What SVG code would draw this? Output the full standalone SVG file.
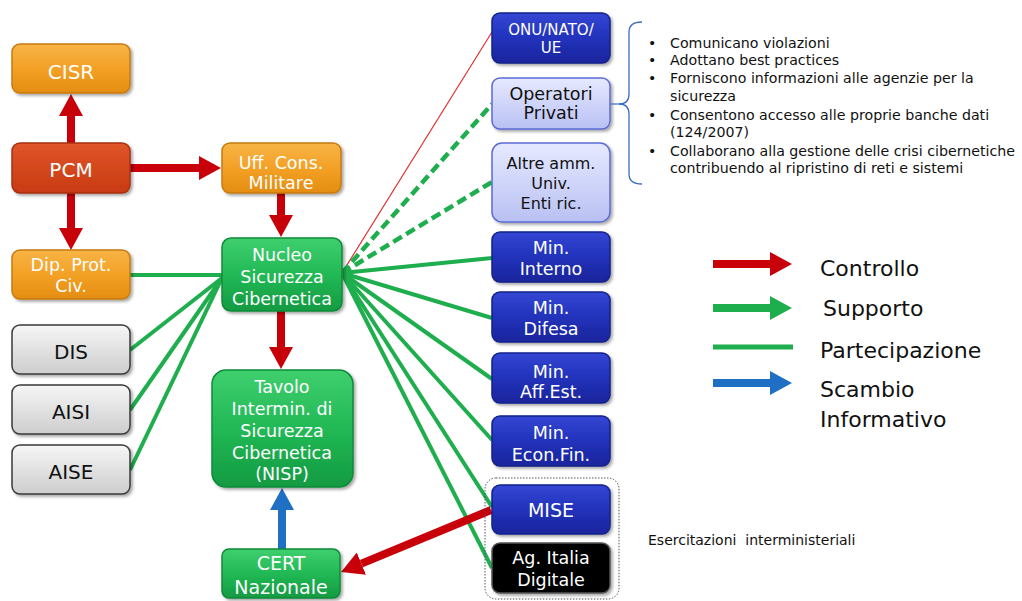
<svg xmlns="http://www.w3.org/2000/svg" width="1022" height="601" viewBox="0 0 1022 601">
<defs>
<linearGradient id="gOr" x1="0" y1="0" x2="0" y2="1"><stop offset="0" stop-color="#f7b445"/><stop offset="0.5" stop-color="#f3a126"/><stop offset="1" stop-color="#e48d10"/></linearGradient>
<linearGradient id="gPcm" x1="0" y1="0" x2="0" y2="1"><stop offset="0" stop-color="#e0552a"/><stop offset="1" stop-color="#c83a12"/></linearGradient>
<linearGradient id="gGr" x1="0" y1="0" x2="0" y2="1"><stop offset="0" stop-color="#3fcf6f"/><stop offset="0.5" stop-color="#22b955"/><stop offset="1" stop-color="#139a42"/></linearGradient>
<linearGradient id="gBl" x1="0" y1="0" x2="0" y2="1"><stop offset="0" stop-color="#3447d4"/><stop offset="0.5" stop-color="#2232bb"/><stop offset="1" stop-color="#1a259c"/></linearGradient>
<linearGradient id="gLb" x1="0" y1="0" x2="0" y2="1"><stop offset="0" stop-color="#e6e9ff"/><stop offset="1" stop-color="#b9c1f3"/></linearGradient>
<linearGradient id="gGy" x1="0" y1="0" x2="0" y2="1"><stop offset="0" stop-color="#f6f6f6"/><stop offset="1" stop-color="#cdcdcd"/></linearGradient>
<filter id="sh" x="-10%" y="-10%" width="125%" height="130%"><feDropShadow dx="2" dy="2" stdDeviation="1.5" flood-color="#000" flood-opacity="0.35"/></filter>
<marker id="hR" markerUnits="userSpaceOnUse" markerWidth="22" markerHeight="24" viewBox="0 0 22 24" refX="0" refY="12" orient="auto"><path d="M0,0 L22,12 L0,24 z" fill="#c8000a"/></marker>
<marker id="hG" markerUnits="userSpaceOnUse" markerWidth="22" markerHeight="24" viewBox="0 0 22 24" refX="0" refY="12" orient="auto"><path d="M0,0 L22,12 L0,24 z" fill="#1fae4e"/></marker>
<marker id="hB" markerUnits="userSpaceOnUse" markerWidth="22" markerHeight="24" viewBox="0 0 22 24" refX="0" refY="12" orient="auto"><path d="M0,0 L22,12 L0,24 z" fill="#1f6fc4"/></marker>
</defs>
<style>
text{font-family:"DejaVu Sans","Verdana",sans-serif;text-anchor:middle}
.b{stroke-width:1.5;filter:url(#sh)}
.or{fill:url(#gOr);stroke:#c77a10}
.pcm{fill:url(#gPcm);stroke:#a83010}
.gr{fill:url(#gGr);stroke:#0f8a38}
.bl{fill:url(#gBl);stroke:#13208a}
.lb{fill:url(#gLb);stroke:#5b6bd6}
.gy{fill:url(#gGy);stroke:#3a3a3a}
.bk{fill:#000;stroke:#555}
.w{fill:#fff;font-size:17.5px}
.k{fill:#111;font-size:17.5px}
.cap{font-size:20px}
.red{stroke:#c8000a;stroke-width:8;fill:none}
.grn{stroke:#1fae4e;stroke-width:4;fill:none}
.dash{stroke:#1fae4e;stroke-width:4.5;stroke-dasharray:10 5;fill:none}
.txt{font-size:14.2px;fill:#111;text-anchor:start}
.leg{font-size:22px;fill:#111;text-anchor:start}
</style>
<rect width="1022" height="601" fill="#fff"/>

<g id="connectors">
<line class="grn" x1="130" y1="275" x2="222" y2="275"/>
<line class="grn" x1="130" y1="350" x2="222" y2="278"/>
<line class="grn" x1="130" y1="410" x2="222" y2="278"/>
<line class="grn" x1="130" y1="470" x2="222" y2="278"/>
<line x1="342" y1="273" x2="492" y2="32" stroke="#e03030" stroke-width="1.2"/>
<line class="dash" x1="342" y1="273" x2="492" y2="104"/>
<line class="dash" x1="342" y1="273" x2="492" y2="182"/>
<line class="grn" x1="342" y1="273" x2="492" y2="258"/>
<line class="grn" x1="342" y1="273" x2="492" y2="318"/>
<line class="grn" x1="342" y1="273" x2="492" y2="379"/>
<line class="grn" x1="342" y1="273" x2="492" y2="440"/>
<line class="grn" x1="342" y1="273" x2="492" y2="507"/>
<line class="grn" x1="342" y1="273" x2="492" y2="568"/>
<line class="red" x1="71" y1="144" x2="71" y2="116" marker-end="url(#hR)"/>
<line class="red" x1="71" y1="192" x2="71" y2="228" marker-end="url(#hR)"/>
<line class="red" x1="130" y1="168" x2="199" y2="168" marker-end="url(#hR)"/>
<line class="red" x1="281" y1="193" x2="281" y2="215" marker-end="url(#hR)"/>
<line class="red" x1="281" y1="311" x2="281" y2="347" marker-end="url(#hR)"/>
<line class="red" x1="491" y1="510" x2="361.4" y2="563.6" marker-end="url(#hR)"/>
<line x1="282" y1="549" x2="282" y2="510" stroke="#1f6fc4" stroke-width="8" marker-end="url(#hB)"/>
</g>

<g id="CISR"><rect class="b or" x="12" y="44" width="118" height="49" rx="8"/><text class="w cap" x="71" y="79">CISR</text></g>
<g id="PCM"><rect class="b pcm" x="12" y="143" width="118" height="50" rx="8"/><text class="w cap" x="71" y="177">PCM</text></g>
<g id="UffConsMilitare"><rect class="b or" x="222" y="143" width="119" height="50" rx="8"/><text class="w" x="281" y="169">Uff. Cons.</text><text class="w" x="281" y="189">Militare</text></g>
<g id="DipProtCiv"><rect class="b or" x="12" y="250" width="118" height="49" rx="8"/><text class="w" x="71" y="271">Dip. Prot.</text><text class="w" x="71" y="292">Civ.</text></g>
<g id="Nucleo"><rect class="b gr" x="222" y="238" width="120" height="73" rx="9"/><text class="w" x="282" y="261">Nucleo</text><text class="w" x="282" y="283">Sicurezza</text><text class="w" x="282" y="305">Cibernetica</text></g>
<g id="DIS"><rect class="b gy" x="12" y="325" width="118" height="49" rx="8"/><text class="k cap" x="71" y="359">DIS</text></g>
<g id="AISI"><rect class="b gy" x="12" y="385" width="118" height="49" rx="8"/><text class="k cap" x="71" y="419">AISI</text></g>
<g id="AISE"><rect class="b gy" x="12" y="445" width="118" height="49" rx="8"/><text class="k cap" x="71" y="479">AISE</text></g>
<g id="Tavolo"><rect class="b gr" x="212" y="370" width="141" height="117" rx="14"/><text class="w" x="282" y="393">Tavolo</text><text class="w" x="282" y="415">Intermin. di</text><text class="w" x="282" y="437">Sicurezza</text><text class="w" x="282" y="459">Cibernetica</text><text class="w" x="282" y="480">(NISP)</text></g>
<g id="CERT"><rect class="b gr" x="222" y="549" width="118" height="49" rx="7"/><text class="w" x="281" y="570" style="font-size:19px">CERT</text><text class="w" x="281" y="594" style="font-size:19px">Nazionale</text></g>

<g id="ONU"><rect class="b bl" x="492" y="13" width="118" height="50" rx="8"/><text class="w" x="551" y="35" style="font-size:15px">ONU/NATO/</text><text class="w" x="551" y="53" style="font-size:15px">UE</text></g>
<g id="OperatoriPrivati"><rect class="b lb" x="492" y="78" width="118" height="51" rx="8"/><text class="k" x="551" y="100">Operatori</text><text class="k" x="551" y="119">Privati</text></g>
<g id="AltreAmm"><rect class="b lb" x="492" y="143" width="118" height="79" rx="10"/><text class="k" x="551" y="169" style="font-size:16px">Altre amm.</text><text class="k" x="551" y="189" style="font-size:16px">Univ.</text><text class="k" x="551" y="209" style="font-size:16px">Enti ric.</text></g>
<g id="MinInterno"><rect class="b bl" x="492" y="232" width="118" height="50" rx="8"/><text class="w" x="551" y="254">Min.</text><text class="w" x="551" y="275">Interno</text></g>
<g id="MinDifesa"><rect class="b bl" x="492" y="292" width="118" height="50" rx="8"/><text class="w" x="551" y="314">Min.</text><text class="w" x="551" y="335">Difesa</text></g>
<g id="MinAffEst"><rect class="b bl" x="492" y="353" width="118" height="50" rx="8"/><text class="w" x="551" y="378">Min.</text><text class="w" x="551" y="398">Aff.Est.</text></g>
<g id="MinEconFin"><rect class="b bl" x="492" y="416" width="118" height="50" rx="8"/><text class="w" x="551" y="439">Min.</text><text class="w" x="551" y="461">Econ.Fin.</text></g>
<g id="EsercitazioniGroup"><rect x="485" y="478" width="134" height="121" rx="11" fill="none" stroke="#555" stroke-width="1" stroke-dasharray="1.5 1.5"/></g>
<g id="MISE"><rect class="b bl" x="492" y="485" width="118" height="49" rx="8"/><text class="w" x="551" y="517" style="font-size:19px">MISE</text></g>
<g id="AgItaliaDigitale"><rect class="b bk" x="492" y="543" width="118" height="50" rx="8"/><text class="w" x="551" y="564">Ag. Italia</text><text class="w" x="551" y="586">Digitale</text></g>

<g id="brace">
<line x1="611" y1="104" x2="620" y2="104" stroke="#3a6cc0" stroke-width="1.2"/>
<path d="M642,22 Q629,22 629,32 L629,94 Q629,104 619,104 Q629,104 629,114 L629,174 Q629,184 642,184" fill="none" stroke="#3a6cc0" stroke-width="1.3"/>
</g>
<g id="notes">
<text class="txt" x="648" y="48">•</text><text class="txt" x="670" y="48">Comunicano violazioni</text>
<text class="txt" x="648" y="65">•</text><text class="txt" x="670" y="65">Adottano best practices</text>
<text class="txt" x="648" y="83">•</text><text class="txt" x="670" y="83">Forniscono informazioni alle agenzie per la</text>
<text class="txt" x="670" y="101">sicurezza</text>
<text class="txt" x="648" y="120">•</text><text class="txt" x="670" y="120">Consentono accesso alle proprie banche dati</text>
<text class="txt" x="670" y="137">(124/2007)</text>
<text class="txt" x="648" y="156">•</text><text class="txt" x="670" y="156">Collaborano alla gestione delle crisi cibernetiche</text>
<text class="txt" x="670" y="173">contribuendo al ripristino di reti e sistemi</text>
<text class="txt" x="648" y="545" style="font-size:14px;white-space:pre" xml:space="preserve">Esercitazioni  interministeriali</text>
</g>

<g id="legend">
<line class="red" x1="713" y1="264" x2="770" y2="264" marker-end="url(#hR)"/>
<line x1="713" y1="308" x2="770" y2="308" stroke="#1fae4e" stroke-width="8" marker-end="url(#hG)"/>
<line x1="713" y1="347" x2="793" y2="347" stroke="#1fae4e" stroke-width="5"/>
<line x1="713" y1="383" x2="770" y2="383" stroke="#1f6fc4" stroke-width="8" marker-end="url(#hB)"/>
<text class="leg" x="820" y="276">Controllo</text>
<text class="leg" x="823" y="316">Supporto</text>
<text class="leg" x="820" y="358">Partecipazione</text>
<text class="leg" x="820" y="397">Scambio</text>
<text class="leg" x="820" y="427">Informativo</text>
</g>
</svg>
